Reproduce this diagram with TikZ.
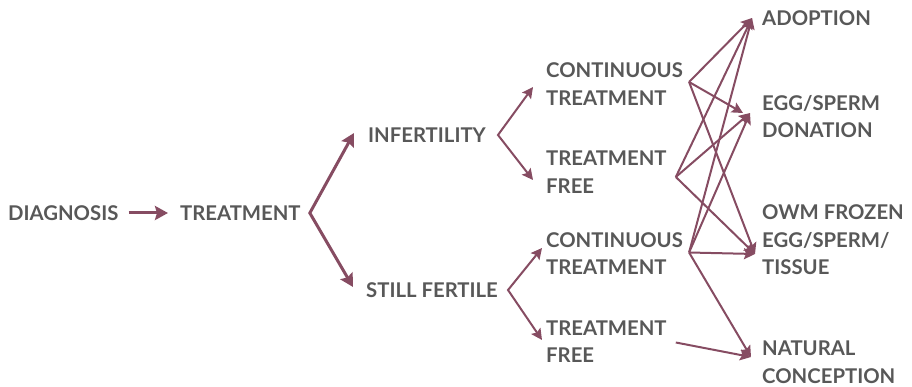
\documentclass[tikz,border=0pt]{standalone}
\usepackage{fontspec}
\setmainfont{Lato}
\usetikzlibrary{arrows.meta,calc}

\definecolor{plum}{RGB}{134,76,98}
\definecolor{txtgray}{RGB}{88,88,88}

\tikzset{
    bigtip/.tip={Stealth[length=13pt,width=14pt,inset=2pt]},
    smalltip/.tip={Stealth[length=11pt,width=11pt,inset=2pt]},
    lbl/.style={anchor=west, inner sep=0pt, align=left, text=txtgray,
        font=\bfseries\fontsize{20.3}{27.5}\selectfont},
    bigarr/.style={draw=plum, line width=3pt, -bigtip},
    smallarr/.style={draw=plum, line width=2pt, -smalltip}
}

\begin{document}
\begin{tikzpicture}[x=1pt, y=-1pt]
        \useasboundingbox (0,0) rectangle (912,387);

        % labels
        \node[lbl] (diag) at (8,213) {DIAGNOSIS};
        \node[lbl] (treat) at (180,213) {TREATMENT};
        \node[lbl] (infert) at (368,135) {INFERTILITY};
        \node[lbl] (fert) at (366,290) {STILL FERTILE};
        \node[lbl] (cont1) at (546,84) {CONTINUOUS\\TREATMENT};
        \node[lbl] (free1) at (546,172) {TREATMENT\\FREE};
        \node[lbl] (cont2) at (546,253.5) {CONTINUOUS\\TREATMENT};
        \node[lbl] (free2) at (546,341.5) {TREATMENT\\FREE};
        \node[lbl] (adopt) at (762,18) {ADOPTION};
        \node[lbl] (donat) at (762,116.5) {EGG/SPERM\\DONATION};
        \node[lbl] (frozen) at (762,240) {OWM FROZEN\\EGG/SPERM/\\TISSUE};
        \node[lbl] (natur) at (762,362) {NATURAL\\CONCEPTION};

        % fork points
        \coordinate (f1) at ($(treat.east)+(9,0)$);
        \coordinate (f2) at ($(infert.east)+(12,0)$);
        \coordinate (f3) at ($(fert.east)+(10,0)$);

        % start and end points on the right
        \coordinate (s1) at ($(cont1.east)+(6,-2)$);
        \coordinate (s2) at ($(free1.east)+(9,5)$);
        \coordinate (s3) at ($(cont2.east)+(6,-1)$);
        \coordinate (s4) at ($(free2.east)+(9,1)$);
        \coordinate (t1) at ($(adopt.west)+(-10,0)$);
        \coordinate (t2a) at ($(donat.west)+(-19,-3.5)$);
        \coordinate (t2b) at ($(donat.west)+(-12,-3.5)$);
        \coordinate (t3) at ($(frozen.west)+(-7,14)$);
        \coordinate (t4) at ($(natur.west)+(-11,-5)$);

        \draw[bigarr] ($(diag.east)+(10,0)$) -- ($(treat.west)+(-12,0)$);
        \draw[bigarr, bigtip-bigtip] ($(infert.west)+(-14,-2)$) -- (f1) -- ($(fert.west)+(-13,-3)$);
        \draw[smallarr, smalltip-smalltip] ($(cont1.west)+(-13,3)$) -- (f2) -- ($(free1.west)+(-13,8)$);
        \draw[smallarr, smalltip-smalltip] ($(cont2.west)+(-4,-5.5)$) -- (f3) -- ($(free2.west)+(-4,-1.5)$);

        \draw[smallarr] (s1) -- (t1);
        \draw[smallarr] (s1) -- (t2a);
        \draw[smallarr] (s1) -- (t3);
        \draw[smallarr] (s2) -- (t1);
        \draw[smallarr] (s2) -- (t2b);
        \draw[smallarr] (s2) -- (t3);
        \draw[smallarr] (s3) -- (t1);
        \draw[smallarr] (s3) -- (t2b);
        \draw[smallarr] (s3) -- (t3);
        \draw[smallarr] (s3) -- (t4);
        \draw[smallarr] (s4) -- (t4);
    \end{tikzpicture}
\end{document}
